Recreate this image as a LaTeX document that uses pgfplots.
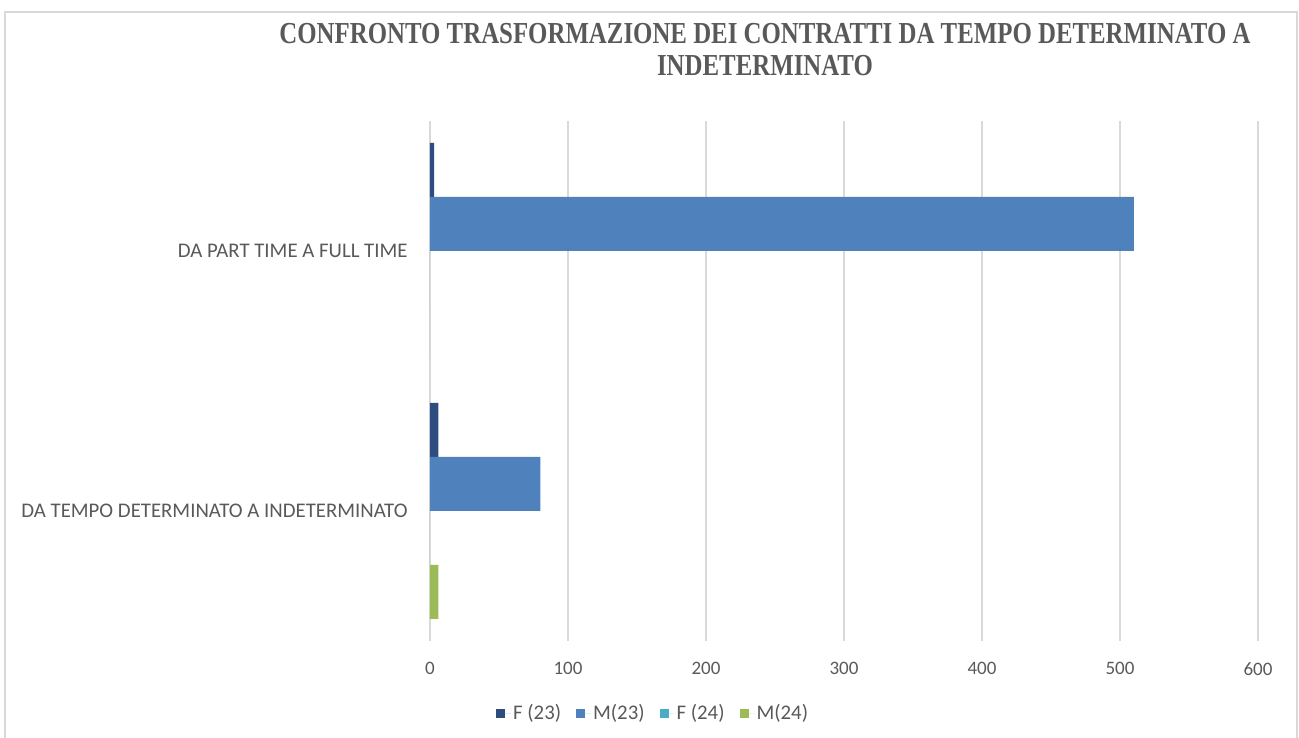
\documentclass[border=0pt]{standalone}
\usepackage{pgfplots}
\pgfplotsset{compat=1.18}
\usepackage{fontspec}
\setmainfont{Carlito}
\newfontfamily\titlefont{Liberation Serif}
\usepackage{graphicx}
\definecolor{cFa}{HTML}{2C4D7E}
\definecolor{cMa}{HTML}{4F81BD}
\definecolor{cFb}{HTML}{4BACC6}
\definecolor{cMb}{HTML}{9BBB59}
\definecolor{gridc}{HTML}{D9D9D9}
\definecolor{txt}{HTML}{595959}
\begin{document}
\begin{tikzpicture}[x=1pt,y=1pt]
\useasboundingbox (0,0) rectangle (1299,738);
\draw[gridc, line width=2pt] (5,0) -- (5,726) -- (1297,726) -- (1297,0);
\node[anchor=base, text=txt, inner sep=0pt] at (765,694) {\scalebox{0.815}[1]{\titlefont\bfseries\fontsize{30.5}{32}\selectfont CONFRONTO TRASFORMAZIONE DEI CONTRATTI DA TEMPO DETERMINATO A}};
\node[anchor=base, text=txt, inner sep=0pt] at (765,662) {\scalebox{0.815}[1]{\titlefont\bfseries\fontsize{30.5}{32}\selectfont INDETERMINATO}};
\begin{axis}[
  at={(430pt,97pt)}, anchor=south west,
  scale only axis, width=828pt, height=520pt,
  xbar, bar width=54pt,
  xmin=0, xmax=600, ymin=-0.5, ymax=1.5,
  xtick={0,100,200,300,400,500,600},
  ytick={0,1},
  yticklabels={DA TEMPO DETERMINATO A INDETERMINATO, DA PART TIME A FULL TIME},
  axis line style={draw=none},
  major tick style={draw=none},
  xmajorgrids, grid style={gridc, line width=2pt},
  /pgf/number format/assume math mode=true,
  xticklabel style={font=\fontsize{19}{21}\selectfont, text=txt, inner sep=0pt, anchor=north, yshift=-21pt},
  yticklabel style={font=\fontsize{20.8}{22}\selectfont, text=txt, inner sep=0pt, anchor=east, xshift=-18pt},
  legend columns=4,
  legend style={draw=none, fill=none, at={(0.0797,-0.1385)}, anchor=west, inner sep=0pt,
    font=\fontsize{20.8}{22}\selectfont, text=txt,
    /tikz/every even column/.append style={column sep=13pt}},
  legend image code/.code={\fill[#1] (0pt,-4.5pt) rectangle (9pt,4.5pt); \path (0pt,0pt) -- (15pt,0pt);},
]
\addplot[fill=cFa, draw=none, bar shift=81pt] coordinates {(6,0) (3,1)};
\addlegendentry{F (23)}
\addplot[fill=cMa, draw=none, bar shift=27pt] coordinates {(80,0) (510,1)};
\addlegendentry{M(23)}
\addplot[fill=cFb, draw=none, bar shift=-27pt] coordinates {(0,0) (0,1)};
\addlegendentry{F (24)}
\addplot[fill=cMb, draw=none, bar shift=-81pt] coordinates {(6,0) (0,1)};
\addlegendentry{M(24)}
\end{axis}
\end{tikzpicture}
\end{document}
